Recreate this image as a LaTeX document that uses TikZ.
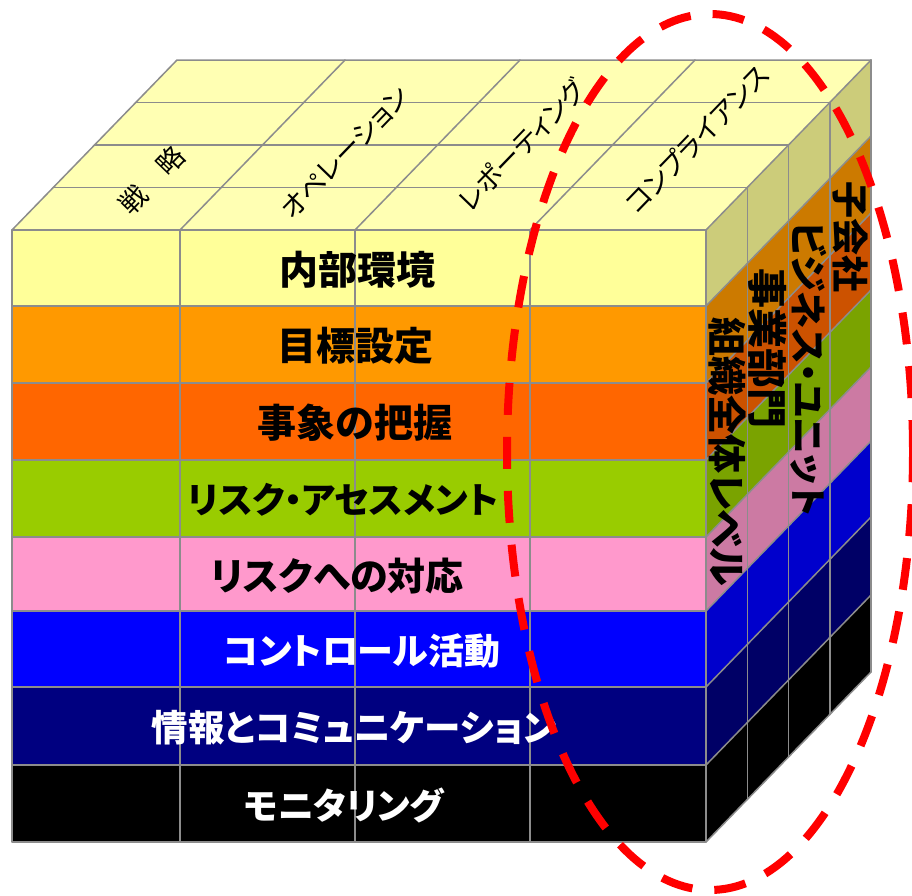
\documentclass[tikz,border=0pt]{standalone}
\usepackage{fontspec}
\newfontfamily\jp{Noto Sans CJK JP}[RawFeature={+palt}]
\definecolor{gridgray}{HTML}{8C8C8C}
\definecolor{topyel}{HTML}{FFFFB3}
\definecolor{fr1}{HTML}{FFFF99}\definecolor{sd1}{HTML}{CCCC7A}
\definecolor{fr2}{HTML}{FF9900}\definecolor{sd2}{HTML}{CC7A00}
\definecolor{fr3}{HTML}{FF6600}\definecolor{sd3}{HTML}{CC5200}
\definecolor{fr4}{HTML}{99CC00}\definecolor{sd4}{HTML}{7AA300}
\definecolor{fr5}{HTML}{FF99CC}\definecolor{sd5}{HTML}{CC7AA3}
\definecolor{fr6}{HTML}{0000FF}\definecolor{sd6}{HTML}{0000CC}
\definecolor{fr7}{HTML}{000080}\definecolor{sd7}{HTML}{000066}
\definecolor{fr8}{HTML}{000000}\definecolor{sd8}{HTML}{000000}
\definecolor{ovalred}{HTML}{FF0000}
\newcommand{\fsz}[1]{\fontsize{#1}{#1}\selectfont}
\begin{document}
\begin{tikzpicture}[x=1pt,y=-1pt,
  gridline/.style={draw=gridgray, line width=1.5pt, line join=round, line cap=round},
  frontlab/.style={font=\jp\bfseries\fsz{36}, inner sep=0pt, anchor=center},
  toplab/.style={font=\jp\fsz{27}, rotate=46, inner sep=0pt, anchor=center},
  sidelab/.style={font=\jp\bfseries\fsz{37}, rotate=-90, inner sep=0pt, anchor=center}]
\useasboundingbox (0,0) rectangle (912,895);

% ---- top face
\fill[topyel] (12,230) -- (706,230) -- (871,60) -- (177,60) -- cycle;
\foreach \k in {1,2,3}
  \draw[gridline] ({12+41.25*\k},{230-42.5*\k}) -- ({706+41.25*\k},{230-42.5*\k});
\foreach \x in {180,355,530}
  \draw[gridline] (\x,230) -- (\x+165,60);
\draw[gridline] (12,230) -- (177,60) -- (871,60);

% ---- side face bands
\foreach \ya/\yb/\c in {230/306/sd1,306/383/sd2,383/460/sd3,460/537/sd4,537/611/sd5,611/687/sd6,687/765/sd7,765/842/sd8}{
  \fill[\c] (706,\ya) -- (871,\ya-170) -- (871,\yb-170) -- (706,\yb) -- cycle;
}
\foreach \yb in {306,383,460,537,611,687,765,842}
  \draw[gridline] (706,\yb) -- (871,\yb-170);
\draw[gridline] (706,230) -- (871,60);
\foreach \k in {1,2,3}
  \draw[gridline] ({706+41.25*\k},{230-42.5*\k}) -- ({706+41.25*\k},{842-42.5*\k});
\draw[gridline] (871,60) -- (871,672);

% ---- front face
\foreach \ya/\yb/\c in {230/306/fr1,306/383/fr2,383/460/fr3,460/537/fr4,537/611/fr5,611/687/fr6,687/765/fr7,765/842/fr8}
  \fill[\c] (12,\ya) rectangle (706,\yb);
\foreach \y in {306,383,460,537,611,765}
  \draw[gridline] (12,\y) -- (706,\y);
\draw[gridline, line width=2.5pt] (12,687) -- (706,687);
\foreach \x in {180,355,530}
  \draw[gridline] (\x,230) -- (\x,842);
\draw[gridline] (12,230) rectangle (706,842);

% ---- front labels
\node[frontlab, font=\jp\bfseries\fsz{39}] (l1) at (357,270) {内部環境};
\node[frontlab, font=\jp\bfseries\fsz{39}] (l2) at (355,346) {目標設定};
\node[frontlab, font=\jp\bfseries\fsz{39}] (l3) at (355,423) {事象の把握};
\node[frontlab] (l4) at (343,500) {リスク・アセスメント};
\node[frontlab, font=\jp\bfseries\fsz{38}] (l5) at (337,576) {リスクへの対応};
\node[frontlab, text=white] (l6) at (362,651) {コントロール活動};
\node[frontlab, text=white, font=\jp\bfseries\fsz{36.5}] (l7) at (354,728) {情報とコミュニケーション};
\node[frontlab, text=white] (l8) at (344,805) {モニタリング};

% ---- top labels
\node[toplab] (t1) at (152,180) {戦　略};
\node[toplab] (t2) at (345,153) {オペレーション};
\node[toplab] (t3) at (522,145) {レポーティング};
\node[toplab] (t4) at (697,139) {コンプライアンス};

% ---- side labels
\node[sidelab, font=\jp\bfseries\fsz{39}] (s1) at (727,452) {組織全体レベル};
\node[sidelab, font=\jp\bfseries\fsz{40}] (s2) at (768,348) {事業部門};
\node[sidelab] (s3) at (809,369) {ビジネス・ユニット};
\node[sidelab] (s4) at (850,237) {子会社};

% ---- red dashed oval
\draw[ovalred, line width=8pt, dash pattern=on 32pt off 22pt] (710,452) ellipse [x radius=203pt, y radius=438pt];
\end{tikzpicture}
\end{document}
